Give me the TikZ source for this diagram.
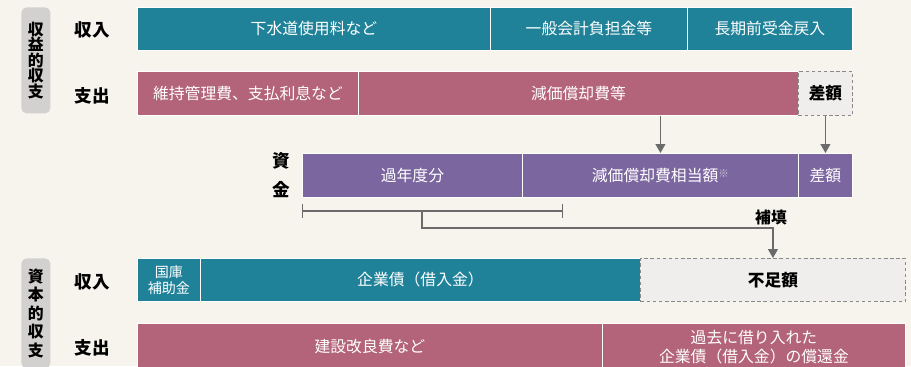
\documentclass[tikz,border=0pt]{standalone}
\usepackage{fontspec}
\setmainfont{Noto Sans CJK JP}
\usetikzlibrary{arrows.meta,positioning}
\definecolor{paper}{HTML}{F7F4EE}
\definecolor{income}{HTML}{1F8299}
\definecolor{expense}{HTML}{B3637A}
\definecolor{fund}{HTML}{7C66A0}
\definecolor{tagfill}{HTML}{D2D1CF}
\definecolor{gapfill}{HTML}{EFEEEC}
\definecolor{linegray}{HTML}{6B6B6B}
\tikzset{
  cell/.style 2 args={anchor=north west, minimum width=#1*0.02cm, minimum height=#2*0.02cm},
  bar/.style={draw=white, line width=0.5pt, inner sep=0pt, text=white, align=center, font=\fontsize{9}{10.5}\selectfont},
  inbar/.style={bar, fill=income},
  exbar/.style={bar, fill=expense},
  fundbar/.style={bar, fill=fund},
  gapbox/.style={draw=linegray!80, dash pattern=on 2pt off 1.5pt, line width=0.5pt, fill=gapfill, inner sep=0pt, align=center, font=\bfseries\fontsize{9.5}{11}\selectfont},
  sidetag/.style={fill=tagfill, rounded corners=3pt, inner sep=0pt, align=center},
  rowlabel/.style={font=\bfseries\fontsize{10}{12}\selectfont},
  arrow/.style={-{Triangle[length=5pt,width=5.5pt]}, draw=linegray, line width=0.8pt},
  bracket/.style={{Bar[width=8.5pt]}-{Bar[width=8.5pt]}, draw=linegray, line width=0.8pt}
}

\begin{document}
\begin{tikzpicture}[x=0.02cm, y=-0.02cm]
  \useasboundingbox[fill=paper] (0,0) rectangle (911,366);

  \node[sidetag, cell={29}{106}, font=\bfseries\fontsize{9}{8.8}\selectfont] (revTag) at (21,7) {収\\益\\的\\収\\支};
  \node[rowlabel] (revIn) at (92,30) {収入};
  \node[rowlabel] (revOut) at (92,96) {支出};

  \node[inbar, cell={353}{43}] (inFee) at (137,7) {下水道使用料など};
  \node[inbar, cell={197}{43}] (inGen) at (490,7) {一般会計負担金等};
  \node[inbar, cell={165}{43}] (inDefer) at (687,7) {長期前受金戻入};

  \node[exbar, cell={221}{44}] (exOps) at (137,71) {維持管理費、支払利息など};
  \node[exbar, cell={440}{44}] (exDep) at (358,71) {減価償却費等};
  \node[gapbox, cell={54}{44}] (exDiff) at (798,71) {差額};

  \node[font=\bfseries\fontsize{10}{16.5}\selectfont, align=center] (fundTag) at (281,175) {資\\金};
  \node[fundbar, cell={220}{44}] (fundPast) at (302,153) {過年度分};
  \node[fundbar, cell={276}{44}] (fundDep) at (522,153) {減価償却費相当額{\fontsize{6}{6}\selectfont\color{white!65!fund}\raisebox{2.5pt}{※}}};
  \node[fundbar, cell={54}{44}] (fundDiff) at (798,153) {差額};

  \draw[arrow] (exDep.south -| fundDep.north) -- (fundDep.north);
  \draw[arrow] (exDiff) -- (fundDiff);

  \coordinate (brL) at (302,211);
  \coordinate (brR) at (563,211);
  \coordinate (brM) at (422,211);
  \draw[bracket] (brL) -- (brR);

  \node[sidetag, cell={29}{110}, font=\bfseries\fontsize{9}{10.6}\selectfont] (capTag) at (21,258) {資\\本\\的\\収\\支};
  \node[rowlabel] (capIn) at (92,282) {収入};
  \node[rowlabel] (capOut) at (92,348) {支出};

  \node[inbar, cell={63}{43}, font=\fontsize{8}{9}\selectfont] (capSub) at (137,258) {国庫\\補助金};
  \node[inbar, cell={440}{43}] (capBond) at (200,258) {企業債（借入金）};
  \node[gapbox, cell={265}{43}] (gap) at (640,258) {不足額};

  \node[exbar, cell={465}{47}] (capWork) at (137,323) {建設改良費など};
  \node[exbar, cell={303}{47}] (capRepay) at (602,323) {過去に借り入れた\\企業債（借入金）の償還金};

  \draw[arrow] (brM) -- ++(0,17) -| (gap.north);
  \node[font=\bfseries\fontsize{9}{11}\selectfont] (fillLabel) at (771,217) {補填};
\end{tikzpicture}
\end{document}
